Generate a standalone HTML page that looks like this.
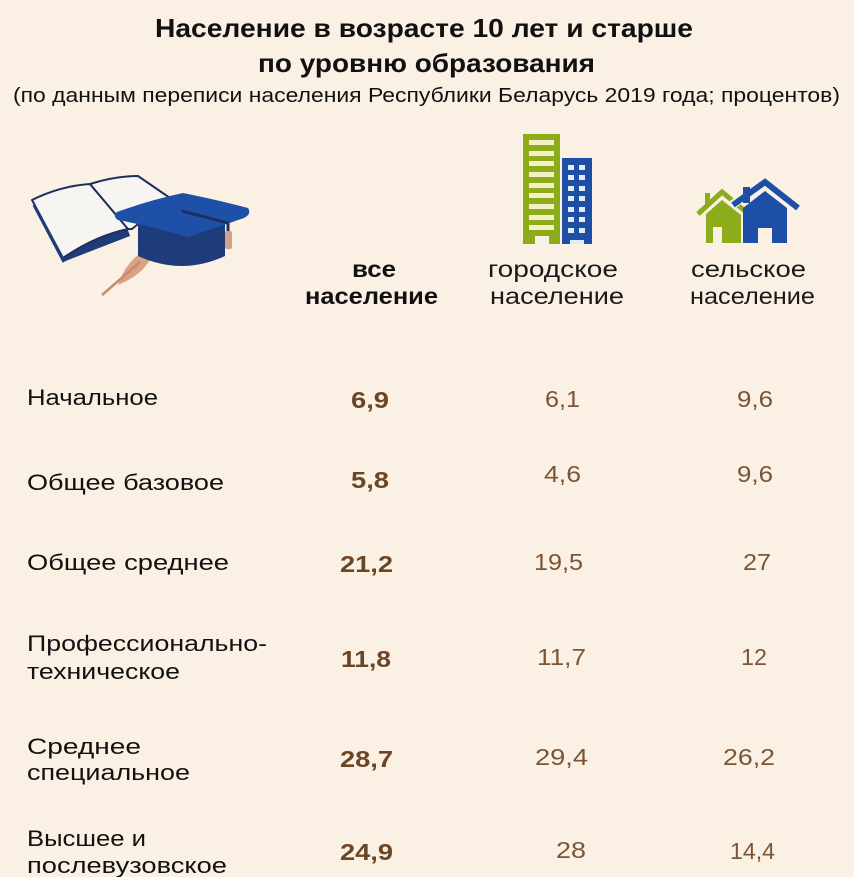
<!DOCTYPE html>
<html><head><meta charset="utf-8"><style>
html,body{margin:0;padding:0;background:#fbf0e4;}
svg{display:block;}
text{font-family:"Liberation Sans","DejaVu Sans",sans-serif;}
.t{font-weight:bold;fill:#111;}
.s{fill:#111;}
.h{font-weight:bold;fill:#111;}
.hr{fill:#1a1a1a;}
.l{fill:#111;}
.vb{font-weight:bold;fill:#6b4526;}
.vr{fill:#7b5636;}
</style></head><body>
<svg width="854" height="877" viewBox="0 0 854 877" xmlns="http://www.w3.org/2000/svg">
<rect width="854" height="877" fill="#fbf0e4"/>
<!-- Title -->
<text class="t" x="155" y="37" font-size="26" textLength="538" lengthAdjust="spacingAndGlyphs">Население в возрасте 10 лет и старше</text>
<text class="t" x="258" y="72" font-size="26" textLength="337" lengthAdjust="spacingAndGlyphs">по уровню образования</text>
<text class="s" x="13" y="102" font-size="20" textLength="827" lengthAdjust="spacingAndGlyphs">(по данным переписи населения Республики Беларусь 2019 года; процентов)</text>

<!-- Book -->
<g stroke-linejoin="round">
<path d="M32,201 L63,262 L130,236 L128,230 Z" fill="#1f3c7a"/>
<path d="M32,200 Q60,186 90,184 L128,229 Q95,236 63,258 Z" fill="#f7f5f2" stroke="#1f2f5c" stroke-width="2"/>
<path d="M90,184 Q115,176 138,176 L170,198 L132,229 L128,229 Z" fill="#f7f5f2" stroke="#1f2f5c" stroke-width="2"/>
<path d="M34,205 L64,262" stroke="#1f3c7a" stroke-width="3"/>
</g>
<!-- Feather -->
<path d="M118,285 Q128,255 155,246 Q150,272 118,285 Z" fill="#dba283"/>
<path d="M102,295 L140,262" stroke="#c98a6b" stroke-width="2.5"/>
<!-- Cap -->
<path d="M138,224 L138,256 Q182,276 225,256 L225,222 Z" fill="#1f3c7a"/>
<path d="M117,212 Q150,200 183,193 Q218,200 248,208 Q252,214 244,218 Q215,228 188,237 Q150,226 118,220 Q112,216 117,212 Z" fill="#1e50a8"/>
<path d="M182,211 L228,223 L228,232" stroke="#1f3060" stroke-width="3" fill="none"/>
<rect x="225" y="231" width="7" height="18" rx="2" fill="#d4a088"/>

<!-- Buildings -->
<rect x="523" y="134" width="37" height="110" fill="#8cac1c"/>
<g fill="#f6eec6">
<rect x="529" y="140" width="25" height="5"/><rect x="529" y="151" width="25" height="5"/>
<rect x="529" y="161" width="25" height="5"/><rect x="529" y="172" width="25" height="5"/>
<rect x="529" y="183" width="25" height="5"/><rect x="529" y="193" width="25" height="5"/>
<rect x="529" y="204" width="25" height="5"/><rect x="529" y="215" width="25" height="5"/>
<rect x="529" y="225" width="25" height="5"/>
</g>
<rect x="535" y="236" width="14" height="8" fill="#fbf0e4"/>
<rect x="562" y="158" width="30" height="86" fill="#1e4fa6"/>
<g fill="#e2ecf8">
<rect x="568" y="165" width="6" height="5"/><rect x="579" y="165" width="6" height="5"/>
<rect x="568" y="175" width="6" height="5"/><rect x="579" y="175" width="6" height="5"/>
<rect x="568" y="186" width="6" height="5"/><rect x="579" y="186" width="6" height="5"/>
<rect x="568" y="196" width="6" height="5"/><rect x="579" y="196" width="6" height="5"/>
<rect x="568" y="207" width="6" height="5"/><rect x="579" y="207" width="6" height="5"/>
<rect x="568" y="217" width="6" height="5"/><rect x="579" y="217" width="6" height="5"/>
<rect x="568" y="228" width="6" height="5"/><rect x="579" y="228" width="6" height="5"/>
<rect x="570" y="240" width="14" height="4"/>
</g>

<!-- Houses -->
<rect x="705" y="193" width="5" height="14" fill="#8cac1c"/>
<path d="M698,214 L722,192 L745,211" stroke="#8cac1c" stroke-width="5" fill="none"/>
<path d="M706,214 L722,200 L741,215 L741,243 L706,243 Z" fill="#8cac1c"/>
<rect x="713" y="227" width="9" height="16" fill="#fbf0e4"/>
<path d="M731,206 L765,180 L800,209" stroke="#fbf0e4" stroke-width="9" fill="none"/>
<rect x="743" y="187" width="7" height="16" fill="#1e4fa6"/>
<path d="M733,205 L765,182 L798,208" stroke="#1e4fa6" stroke-width="6" fill="none"/>
<path d="M743,208 L765,191 L787,208 L787,243 L743,243 Z" fill="#1e4fa6"/>
<rect x="758" y="228" width="14" height="15" fill="#fbf0e4"/>

<!-- Column headers -->
<text class="h" x="352" y="277" font-size="23" textLength="44" lengthAdjust="spacingAndGlyphs">все</text>
<text class="h" x="305" y="304" font-size="23" textLength="133" lengthAdjust="spacingAndGlyphs">население</text>
<text class="hr" x="488" y="277" font-size="23" textLength="130" lengthAdjust="spacingAndGlyphs">городское</text>
<text class="hr" x="490" y="304" font-size="23" textLength="134" lengthAdjust="spacingAndGlyphs">население</text>
<text class="hr" x="691" y="277" font-size="23" textLength="115" lengthAdjust="spacingAndGlyphs">сельское</text>
<text class="hr" x="690" y="304" font-size="23" textLength="125" lengthAdjust="spacingAndGlyphs">население</text>

<!-- Row labels -->
<g class="l" font-size="22">
<text x="27" y="405" textLength="131" lengthAdjust="spacingAndGlyphs">Начальное</text>
<text x="27" y="490" textLength="197" lengthAdjust="spacingAndGlyphs">Общее базовое</text>
<text x="27" y="570" textLength="202" lengthAdjust="spacingAndGlyphs">Общее среднее</text>
<text x="27" y="651" textLength="240" lengthAdjust="spacingAndGlyphs">Профессионально-</text>
<text x="27" y="679" textLength="153" lengthAdjust="spacingAndGlyphs">техническое</text>
<text x="27" y="754" textLength="114" lengthAdjust="spacingAndGlyphs">Среднее</text>
<text x="27" y="780" textLength="163" lengthAdjust="spacingAndGlyphs">специальное</text>
<text x="27" y="846" textLength="119" lengthAdjust="spacingAndGlyphs">Высшее и</text>
<text x="27" y="873" textLength="200" lengthAdjust="spacingAndGlyphs">послевузовское</text>
</g>

<!-- Values: all population (bold) -->
<g class="vb" font-size="23">
<text x="351" y="408" textLength="38" lengthAdjust="spacingAndGlyphs">6,9</text>
<text x="351" y="488" textLength="38" lengthAdjust="spacingAndGlyphs">5,8</text>
<text x="340" y="572" textLength="53" lengthAdjust="spacingAndGlyphs">21,2</text>
<text x="341" y="667" textLength="50" lengthAdjust="spacingAndGlyphs">11,8</text>
<text x="340" y="767" textLength="53" lengthAdjust="spacingAndGlyphs">28,7</text>
<text x="340" y="860" textLength="53" lengthAdjust="spacingAndGlyphs">24,9</text>
</g>
<!-- Urban -->
<g class="vr" font-size="23">
<text x="545" y="407" textLength="35" lengthAdjust="spacingAndGlyphs">6,1</text>
<text x="544" y="482" textLength="37" lengthAdjust="spacingAndGlyphs">4,6</text>
<text x="534" y="570" textLength="49" lengthAdjust="spacingAndGlyphs">19,5</text>
<text x="537" y="665" textLength="49" lengthAdjust="spacingAndGlyphs">11,7</text>
<text x="535" y="765" textLength="53" lengthAdjust="spacingAndGlyphs">29,4</text>
<text x="556" y="858" textLength="30" lengthAdjust="spacingAndGlyphs">28</text>
</g>
<!-- Rural -->
<g class="vr" font-size="23">
<text x="737" y="407" textLength="36" lengthAdjust="spacingAndGlyphs">9,6</text>
<text x="737" y="482" textLength="36" lengthAdjust="spacingAndGlyphs">9,6</text>
<text x="743" y="570" textLength="28" lengthAdjust="spacingAndGlyphs">27</text>
<text x="741" y="665" textLength="26" lengthAdjust="spacingAndGlyphs">12</text>
<text x="723" y="765" textLength="52" lengthAdjust="spacingAndGlyphs">26,2</text>
<text x="730" y="859" textLength="45" lengthAdjust="spacingAndGlyphs">14,4</text>
</g>
</svg>
</body></html>
